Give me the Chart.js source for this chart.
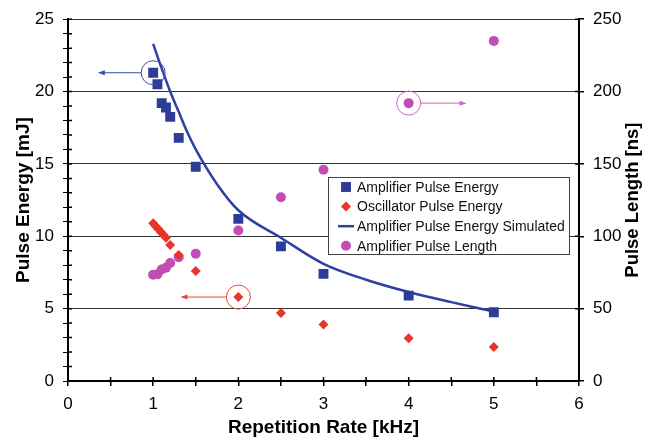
<!DOCTYPE html>
<html>
<head>
<meta charset="utf-8">
<script src="https://cdn.jsdelivr.net/npm/chart.js@4.4.1/dist/chart.umd.min.js"></script>
<style>
  html, body { margin: 0; padding: 0; background: #fff; }
  #wrap { width: 650px; height: 446px; }
</style>
</head>
<body>
<div id="wrap"><canvas id="pulseChart" width="650" height="446"></canvas></div>
<script>
// values
const ampRate = [1.0, 1.05, 1.1, 1.15, 1.2, 1.3, 1.5, 2, 2.5, 3, 4, 5];
const ampEnergy = [21.3, 20.5, 19.2, 18.9, 18.25, 16.8, 14.8, 11.2, 9.3, 7.4, 5.9, 4.75];

const oscRate = [1.0, 1.03, 1.06, 1.09, 1.12, 1.15, 1.2, 1.3, 1.5, 2, 2.5, 3, 4, 5];
const oscEnergy = [10.9, 10.7, 10.5, 10.3, 10.1, 9.9, 9.4, 8.7, 7.6, 5.8, 4.7, 3.9, 2.95, 2.35];

const simRate = [1.0, 1.1, 1.2, 1.3, 1.4, 1.5, 1.75, 2, 2.5, 3, 3.5, 4, 4.5, 5];
const simEnergy = [23.3, 21.6, 20.0, 18.6, 17.2, 16.0, 13.6, 11.8, 9.9, 8.1, 7.0, 6.15, 5.45, 4.8];

const lenRate = [1.0, 1.05, 1.1, 1.15, 1.2, 1.3, 1.5, 2, 2.5, 3, 4, 5];
const pulseLength = [73.5, 73.7, 77, 78.3, 81.5, 85.5, 88, 104, 127, 146, 192, 235];

const seriesNames = ['Amplifier Pulse Energy', 'Oscillator Pulse Energy', 'Amplifier Pulse Energy Simulated', 'Amplifier Pulse Length'];

// circled points with an arrow pointing at their axis
const callouts = [
    { dataset: 0, index: 0, toX: 0.35 },
    { dataset: 1, index: 9, toX: 1.32 },
    { dataset: 3, index: 10, toX: 4.68 }
];

const FONT = '"Liberation Sans", Arial, Helvetica, sans-serif';
const BLUE = '#2d3c98';
const RED = '#e8342a';
const MAGENTA = '#c24db4';
const LINE = '#2e40a2';
const calloutColors = ['#3a4ea8', '#e84a3a', '#cc66be'];

function pts(xs, ys) {
    return xs.map((x, i) => ({ x: x, y: ys[i] }));
}

const calloutPlugin = {
    id: 'callouts',
    afterDatasetsDraw(chart) {
        const c = chart.ctx;
        callouts.forEach((co, k) => {
            const ds = chart.data.datasets[co.dataset];
            const p = ds.data[co.index];
            const xs = chart.scales.x;
            const ys = chart.scales[ds.yAxisID];
            const px = xs.getPixelForValue(p.x);
            const py = ys.getPixelForValue(p.y);
            const tx = xs.getPixelForValue(co.toX);
            const r = 12;
            const dir = tx < px ? -1 : 1;
            c.save();
            c.strokeStyle = calloutColors[k];
            c.fillStyle = calloutColors[k];
            c.lineWidth = 1;
            c.beginPath();
            c.arc(px, py, r, 0, Math.PI * 2);
            c.stroke();
            c.beginPath();
            c.moveTo(px + dir * r, py);
            c.lineTo(tx - dir * 5, py);
            c.stroke();
            c.beginPath();
            c.moveTo(tx, py);
            c.lineTo(tx - dir * 7, py - 2.5);
            c.lineTo(tx - dir * 7, py + 2.5);
            c.closePath();
            c.fill();
            c.restore();
        });
    }
};

// small tick stubs poking inside the plot, like the original
const innerTicks = {
    id: 'innerTicks',
    afterDraw(chart) {
        const c = chart.ctx;
        const a = chart.chartArea;
        c.save();
        c.strokeStyle = '#000';
        c.lineWidth = 1.5;
        c.beginPath();
        chart.scales.x.ticks.forEach(t => {
            const x = chart.scales.x.getPixelForValue(t.value);
            c.moveTo(x, a.bottom);
            c.lineTo(x, a.bottom - 4);
        });
        chart.scales.y.ticks.forEach(t => {
            const y = chart.scales.y.getPixelForValue(t.value);
            c.moveTo(a.left, y);
            c.lineTo(a.left + 4, y);
        });
        chart.scales.y2.ticks.forEach(t => {
            const y = chart.scales.y2.getPixelForValue(t.value);
            c.moveTo(a.right, y);
            c.lineTo(a.right - 4, y);
        });
        c.stroke();
        c.restore();
    }
};

const legendPlugin = {
    id: 'boxLegend',
    afterDraw(chart) {
        const c = chart.ctx;
        const left = 328, top = 177, w = 241, h = 77;
        c.save();
        c.fillStyle = '#fff';
        c.fillRect(left, top, w, h);
        c.strokeStyle = '#444';
        c.lineWidth = 1;
        c.strokeRect(left + 0.5, top + 0.5, w, h);
        c.font = '14px ' + FONT;
        c.textBaseline = 'middle';
        chart.data.datasets.forEach((ds, i) => {
            const y = top + 10 + i * 19.6;
            const mx = left + 18;
            if (ds.showLine) {
                c.strokeStyle = ds.borderColor;
                c.lineWidth = 2.5;
                c.beginPath();
                c.moveTo(left + 10, y);
                c.lineTo(left + 26, y);
                c.stroke();
            } else {
                c.fillStyle = ds.backgroundColor;
                c.strokeStyle = ds.backgroundColor;
                Chart.helpers.drawPoint(c, { pointStyle: ds.pointStyle, radius: ds.pointRadius, borderWidth: 0, rotation: 0 }, mx, y);
            }
            c.fillStyle = '#111';
            c.fillText(seriesNames[i], left + 29, y + 1);
        });
        c.restore();
    }
};

const rightTitlePlugin = {
    id: 'rightTitle',
    afterDraw(chart) {
        const c = chart.ctx;
        const area = chart.chartArea;
        c.save();
        c.translate(633, (area.top + area.bottom) / 2);
        c.rotate(-Math.PI / 2);
        c.font = 'bold 18.5px ' + FONT;
        c.fillStyle = '#000';
        c.textAlign = 'center';
        c.textBaseline = 'middle';
        c.fillText('Pulse Length [ns]', 0, 0);
        c.restore();
    }
};

const ctx = document.getElementById('pulseChart').getContext('2d');
new Chart(ctx, {
    type: 'scatter',
    data: {
        datasets: [
            {
                label: seriesNames[0],
                data: pts(ampRate, ampEnergy),
                yAxisID: 'y',
                pointStyle: 'rect',
                pointRadius: 7,
                backgroundColor: BLUE,
                borderColor: BLUE,
                borderWidth: 0
            },
            {
                label: seriesNames[1],
                data: pts(oscRate, oscEnergy),
                yAxisID: 'y',
                pointStyle: 'rectRot',
                pointRadius: 5,
                backgroundColor: RED,
                borderColor: RED,
                borderWidth: 0
            },
            {
                label: seriesNames[2],
                data: pts(simRate, simEnergy),
                yAxisID: 'y',
                showLine: true,
                pointRadius: 0,
                borderColor: LINE,
                backgroundColor: LINE,
                borderWidth: 2.5,
                cubicInterpolationMode: 'monotone'
            },
            {
                label: seriesNames[3],
                data: pts(lenRate, pulseLength),
                yAxisID: 'y2',
                pointStyle: 'circle',
                pointRadius: 5,
                backgroundColor: MAGENTA,
                borderColor: MAGENTA,
                borderWidth: 0
            }
        ]
    },
    options: {
        responsive: false,
        animation: false,
        layout: { padding: { top: 11, left: 0, right: 0, bottom: 0 } },
        plugins: {
            legend: { display: false },
            tooltip: { enabled: false }
        },
        scales: {
            x: {
                type: 'linear',
                min: 0,
                max: 6,
                ticks: {
                    stepSize: 0.5,
                    autoSkip: false,
                    maxRotation: 0,
                    padding: 8,
                    color: '#000',
                    font: { size: 17, family: FONT },
                    callback: v => Number.isInteger(v) ? v : ''
                },
                grid: { drawOnChartArea: false, tickLength: 5, color: '#000', lineWidth: 1.5 },
                border: { color: '#000', width: 2 },
                title: {
                    display: true,
                    text: 'Repetition Rate [kHz]',
                    color: '#000',
                    font: { size: 19, weight: 'bold', family: FONT },
                    padding: { top: 0, bottom: 7 }
                },
                afterFit(s) { s.height = 65; }
            },
            y: {
                position: 'left',
                min: 0,
                max: 25,
                ticks: {
                    stepSize: 1,
                    autoSkip: false,
                    padding: 9,
                    color: '#000',
                    font: { size: 17, family: FONT },
                    callback: v => v % 5 === 0 ? v : ''
                },
                grid: {
                    color: c => (c.tick && c.tick.value % 5 === 0) ? '#333' : 'rgba(0,0,0,0)',
                    tickColor: '#000',
                    tickLength: 5,
                    lineWidth: 1
                },
                border: { color: '#000', width: 2 },
                title: {
                    display: true,
                    text: 'Pulse Energy [mJ]',
                    color: '#000',
                    font: { size: 19, weight: 'bold', family: FONT },
                    padding: { top: 12, bottom: 0 }
                },
                afterFit(s) { s.width = 68; }
            },
            y2: {
                position: 'right',
                min: 0,
                max: 250,
                ticks: {
                    stepSize: 50,
                    padding: 9,
                    color: '#000',
                    font: { size: 17, family: FONT }
                },
                grid: { drawOnChartArea: false, tickLength: 5, color: '#000', lineWidth: 1.5 },
                border: { color: '#000', width: 2 },
                afterFit(s) { s.width = 71; }
            }
        }
    },
    plugins: [calloutPlugin, innerTicks, legendPlugin, rightTitlePlugin]
});
</script>
</body>
</html>
